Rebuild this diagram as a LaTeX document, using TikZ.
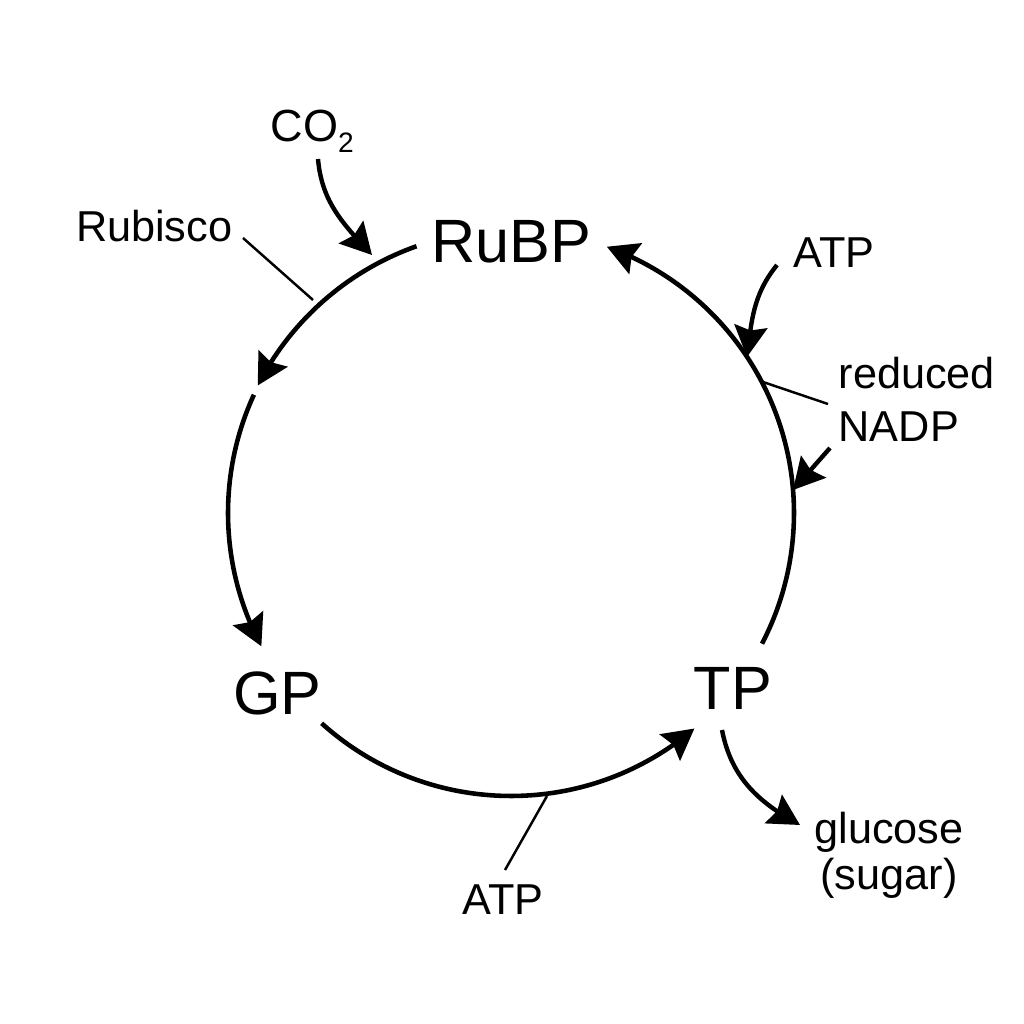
\documentclass[tikz,border=0pt]{standalone}
\usepackage{fontspec}
\setmainfont{Liberation Sans}
\usetikzlibrary{arrows.meta,bending}
\begin{document}
\begin{tikzpicture}[x=0.01cm,y=0.01cm,
  tip/.style={-{Stealth[length=8.8pt,width=9.4pt,inset=1.2pt]}},
  cyc/.style={line width=1.3pt,tip},
  feed/.style={line width=1.25pt,tip},
  thinline/.style={line width=0.7pt},
  big/.style={inner sep=0pt,font=\fontsize{17.4}{20}\selectfont},
  small/.style={inner sep=0pt,font=\fontsize{12.3}{15}\selectfont}]
\useasboundingbox (0,0) rectangle (1024,1024);
\coordinate (C) at (511,511);
% main labels
\node[big,anchor=base] (rubp) at (511,761) {RuBP};
\node[big,anchor=base] (gp) at (277.5,309) {GP};
\node[big,anchor=base] (tp) at (733,314) {TP};
% side labels
\node[small,anchor=base east] (rubisco) at (233,782) {Rubisco};
\node[anchor=base west,inner sep=0pt,font=\fontsize{12.8}{15}\selectfont] (co2) at (270,882) {CO\raisebox{-2.85pt}{\fontsize{8}{9}\selectfont 2}};
\node[small,anchor=base west] (atp1) at (793,756) {ATP};
\node[small,anchor=base west,align=left,font=\fontsize{12.3}{15.2}\selectfont] (nadp) at (838,582.5) {reduced\\NADP};
\node[small,anchor=base] (atp2) at (503,109) {ATP};
\node[small,anchor=base,align=center,font=\fontsize{12.3}{13.3}\selectfont] (glc) at (889,134) {glucose\\(sugar)};
% points on the cycle
\path (C) ++(109.5:283) coordinate (a1s);
\path (C) ++(155.3:283) coordinate (a2s);
\path (C) ++(228:283) coordinate (a3s);
\path (C) ++(-27.5:283) coordinate (a4s);
% cycle arcs
\draw[cyc] (a1s) arc[start angle=109.5,end angle=153,radius=285];
\draw[cyc] (a2s) arc[start angle=155.3,end angle=208.1,radius=283];
\draw[cyc] (a3s) arc[start angle=228,end angle=310.4,radius=283];
\draw[cyc] (a4s) arc[start angle=-27.5,end angle=70.2,radius=283];
% inputs / outputs
\coordinate (co2s) at (318,865);
\coordinate (co2t) at (372,769);
\draw[feed] (co2s) to[out=-85,in=133] (co2t);
\coordinate (atp1s) at (777,759);
\coordinate (atp1t) at (747,667);
\draw[feed] (atp1s) to[out=231,in=83] (atp1t);
\coordinate (nadps) at (830,576);
\coordinate (nadpt) at (793,534);
\draw[feed] (nadps) -- (nadpt);
\coordinate (glcs) at (722,294);
\coordinate (glct) at (800,199);
\draw[feed] (glcs) to[out=-79,in=151.5] (glct);
% enzyme / cofactor lines
\coordinate (rubl) at (243,786);
\coordinate (rubc) at (313,724);
\draw[thinline] (rubl) -- (rubc);
\coordinate (atp2c) at (547,228);
\coordinate (atp2l) at (505,154);
\draw[thinline] (atp2c) -- (atp2l);
\coordinate (nadpc) at (763,642);
\coordinate (nadpl) at (828,620);
\draw[thinline] (nadpc) -- (nadpl);
\end{tikzpicture}
\end{document}
